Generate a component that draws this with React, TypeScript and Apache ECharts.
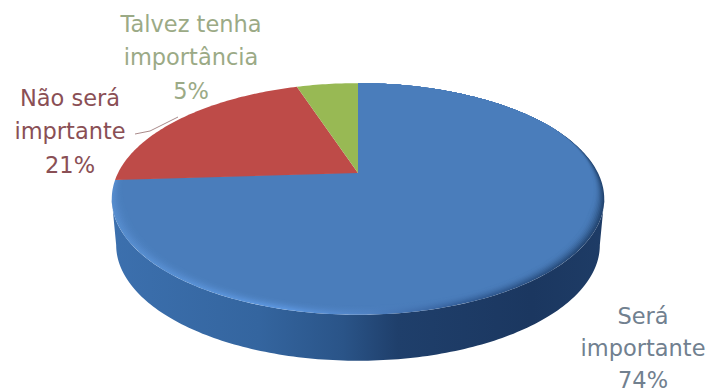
import React, { useEffect, useRef } from "react";
import * as echarts from "echarts";

const categories = ["Será\nimportante", "Não será\nimprtante", "Talvez tenha\nimportância"];
const shares = [74, 21, 5];
const faceColors = ["#4A7DBB", "#BE4B48", "#98B954"];
const labelColors = ["#71808F", "#8A4F55", "#9BAA86"];
const labelAnchors = [[643, 347.5], [70, 131], [191, 57]];
const labelLineHeights = [32, 33.5, 33.5];

// Tilted disc: the apex of the slices sits behind the middle of the outline
const cx = 358;
const cy = 173;
const radiusX = 240;
const depthScale = 110;
const perspective = 0.224;
const thickness = 46;
const baseNarrowing = 0.982;

// Angles at which the projected outline reaches its right and left extremes
const frontStart = Math.acos(-perspective);
const frontEnd = Math.PI * 2 - frontStart;

const total = shares.reduce((a, b) => a + b, 0);

function sliceAngles(i: number): [number, number] {
  let before = 0;
  for (let k = 0; k < i; k++) before += shares[k];
  return [(before / total) * Math.PI * 2, ((before + shares[i]) / total) * Math.PI * 2];
}

function project(theta: number, r = 1): [number, number] {
  const u = Math.sin(theta) * r;
  const v = Math.cos(theta) * r;
  const d = 1 + perspective * v;
  return [cx + (radiusX * u) / d, cy - (depthScale * v) / d];
}

// Rim inset grows toward the viewer and vanishes along the far edge
function rimInset(theta: number, width: number) {
  const v = Math.cos(theta);
  return 1 - width * Math.min(1, Math.max(0, (0.45 - v) / 0.8));
}

function arcPoints(a0: number, a1: number, inset = 0) {
  const n = Math.max(4, Math.ceil((a1 - a0) * 60));
  const pts: [number, number][] = [];
  for (let i = 0; i <= n; i++) {
    const t = a0 + ((a1 - a0) * i) / n;
    pts.push(project(t, inset ? rimInset(t, inset) : 1));
  }
  return pts;
}

function hGradient(stops: [number, string][]) {
  return {
    type: "linear",
    x: 110,
    y: 0,
    x2: 606,
    y2: 0,
    global: true,
    colorStops: stops.map(([offset, color]) => ({ offset, color })),
  };
}

const sideStops: [number, string][] = [
  [0, "#3C70AE"],
  [0.3, "#34659F"],
  [0.47, "#2A5488"],
  [0.58, "#1F3F6B"],
  [0.85, "#1B3760"],
  [1, "#1E3C66"],
];

const rimLight: [number, [number, number, number]][] = [
  [0, [86, 140, 205]],
  [0.35, [92, 150, 222]],
  [0.52, [80, 130, 195]],
  [0.7, [52, 96, 155]],
  [1, [34, 68, 112]],
];
const faceRgb: [number, number, number] = [74, 125, 187];
const rimWeights = [1, 0.85, 0.65, 0.48, 0.32, 0.2, 0.1, 0.04];

function mixRim(weight: number) {
  return hGradient(
    rimLight.map(([o, c]) => [
      o,
      `rgb(${c.map((ch, i) => Math.round(faceRgb[i] + (ch - faceRgb[i]) * weight)).join(",")})`,
    ])
  );
}

// Only the part of a slice facing the viewer has a visible wall
function renderSide(params: any) {
  const [s0, s1] = sliceAngles(params.dataIndex);
  const a0 = Math.max(s0, frontStart);
  const a1 = Math.min(s1, frontEnd);
  if (a1 <= a0) return null;
  const top = arcPoints(a0, a1);
  const bottom = top
    .map(([x, y]) => [cx + (x - cx) * baseNarrowing, y + thickness])
    .reverse();
  return {
    type: "polygon",
    shape: { points: [...top, ...bottom] },
    style: { fill: hGradient(sideStops) },
  };
}

function renderFace(params: any) {
  const i = params.dataIndex;
  const [a0, a1] = sliceAngles(i);
  const wedge = (inset: number) => [[cx, cy], ...arcPoints(a0, a1, inset)];
  const children: any[] = [];
  if (i === 0) {
    rimWeights.forEach((w, k) => {
      children.push({
        type: "polygon",
        shape: { points: wedge(0.006 * k + 0.0001) },
        style: { fill: mixRim(w) },
      });
    });
    children.push({
      type: "polygon",
      shape: { points: wedge(0.052) },
      style: { fill: faceColors[0] },
    });
  } else {
    children.push({
      type: "polygon",
      shape: { points: wedge(0) },
      style: { fill: faceColors[i] },
    });
  }
  return { type: "group", children };
}

function renderLabel(params: any, api: any) {
  const i = params.dataIndex;
  const [x, y] = labelAnchors[i];
  return {
    type: "text",
    x,
    y,
    style: {
      text: `${categories[i]}\n${api.value(0)}%`,
      fill: labelColors[i],
      font: '22.5px "DejaVu Sans"',
      lineHeight: labelLineHeights[i],
      align: "center",
      verticalAlign: "middle",
    },
  };
}

export default function App() {
  const ref = useRef<HTMLDivElement>(null);

  useEffect(() => {
    document.body.style.margin = "0";
    const chart = echarts.init(ref.current!, undefined, { renderer: "svg" });
    chart.setOption({
      animation: false,
      backgroundColor: "#FFFFFF",
      series: [
        { type: "custom", coordinateSystem: "none", silent: true, data: shares, renderItem: renderSide, z: 1 },
        { type: "custom", coordinateSystem: "none", silent: true, data: shares, renderItem: renderFace, z: 2 },
        { type: "custom", coordinateSystem: "none", silent: true, data: shares, renderItem: renderLabel, z: 4 },
      ],
      graphic: [
        {
          type: "polyline",
          z: 3,
          shape: { points: [[135, 134], [150, 131], [178, 117]] },
          style: { stroke: "#A98A8A", lineWidth: 1, fill: "none" },
        },
      ],
    });
    return () => chart.dispose();
  }, []);

  return <div ref={ref} style={{ width: 714, height: 391 }} />;
}
